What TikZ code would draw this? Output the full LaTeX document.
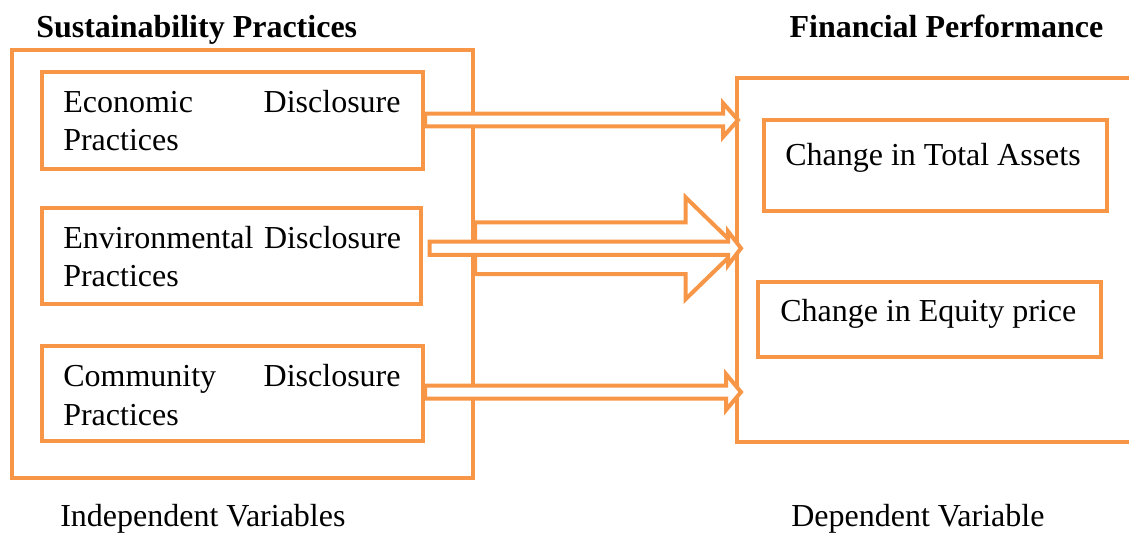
\documentclass[tikz,border=0pt]{standalone}
\usepackage{fontspec}
\setmainfont{Liberation Serif}
\usepackage{xcolor}
\usepackage{tikz}
\usetikzlibrary{calc,fit}
\definecolor{accentorange}{HTML}{F79646}

% outlined block arrow: start, tip, half shaft, half head, head length
\newcommand{\blockarrow}[5]{%
  \draw[arrowshape] ($(#1)+(0,-#3)$) -- ($(#2)+(-#5,-#3)$) -- ($(#2)+(-#5,-#4)$) -- (#2) -- ($(#2)+(-#5,#4)$) -- ($(#2)+(-#5,#3)$) -- ($(#1)+(0,#3)$) -- cycle ;}

\begin{document}
\begin{tikzpicture}[x=0.75pt,y=0.75pt,yscale=-1,xscale=1,
  box/.style={draw=accentorange, line width=3pt, inner sep=0pt},
  arrowshape/.style={draw=accentorange, line width=3pt, fill=white},
  txt/.style={inner sep=0pt, anchor=base west, font=\fontsize{24}{28.8}\selectfont},
  headtxt/.style={txt, font=\bfseries\fontsize{24}{28.8}\selectfont}]
\clip (0,0) rectangle (1129,533);

%Shape: Rectangle (outer boxes)
\node[box, fit={(11.7,50) (473,477.5)}] (sust) {};
\node[box, fit={(737,77.5) (1160,441.7)}] (finperf) {};
%Shape: Rectangle (inner boxes)
\node[box, fit={(41.7,71.5) (423,168.5)}] (econ) {};
\node[box, fit={(41.7,207.5) (421,304)}] (envir) {};
\node[box, fit={(41.7,346) (423,440.5)}] (comm) {};
\node[box, fit={(763.8,119.8) (1107,210.5)}] (assets) {};
\node[box, fit={(758.3,281.7) (1101,356.7)}] (equity) {};

%Shape: Right Arrow
\coordinate (econtip) at ($(econ.east -| finperf.west)+(3,0)$);
\blockarrow{econ.east}{econtip}{6.4}{17}{15}
\coordinate (envstart) at ($(envir.east)+(6.5,-7.5)$);
\coordinate (bigstart) at (envstart -| sust.east);
\coordinate (bigtip) at ($(envstart -| finperf.west)+(3,0)$);
\coordinate (envtip) at ($(envstart -| finperf.west)+(6,0)$);
\blockarrow{bigstart}{bigtip}{25.8}{51}{52.5}
\blockarrow{envstart}{envtip}{6.7}{17}{13}
\coordinate (commstart) at ($(comm.east)+(0,-1.2)$);
\coordinate (commtip) at ($(commstart -| finperf.west)+(6,0)$);
\blockarrow{commstart}{commtip}{6.5}{18}{15}

% Text Node
\node[headtxt] (susthead) at (36,37.3) {Sustainability Practices};
% Text Node
\node[headtxt] (finhead) at (789.3,37.3) {Financial Performance};
% Text Node
\node[txt, text width=253pt, align=left] (econtxt) at (63,112.3) {Economic\hfill Disclosure\\Practices};
% Text Node
\node[txt, text width=253pt, align=left] (envirtxt) at (63,248.3) {\mbox{Environmental Disclosure}\\Practices};
% Text Node
\node[txt, text width=253pt, align=left] (commtxt) at (63,386.7) {Community\hfill Disclosure\\Practices};
% Text Node
\node[txt] (assetstxt) at (785,165) {Change in Total Assets};
% Text Node
\node[txt] (equitytxt) at (780,321.7) {Change in Equity price};
% Text Node
\node[txt] (indeptxt) at (60,526.7) {Independent Variables};
% Text Node
\node[txt] (deptxt) at (791,526.7) {Dependent Variable};
\end{tikzpicture}
\end{document}
